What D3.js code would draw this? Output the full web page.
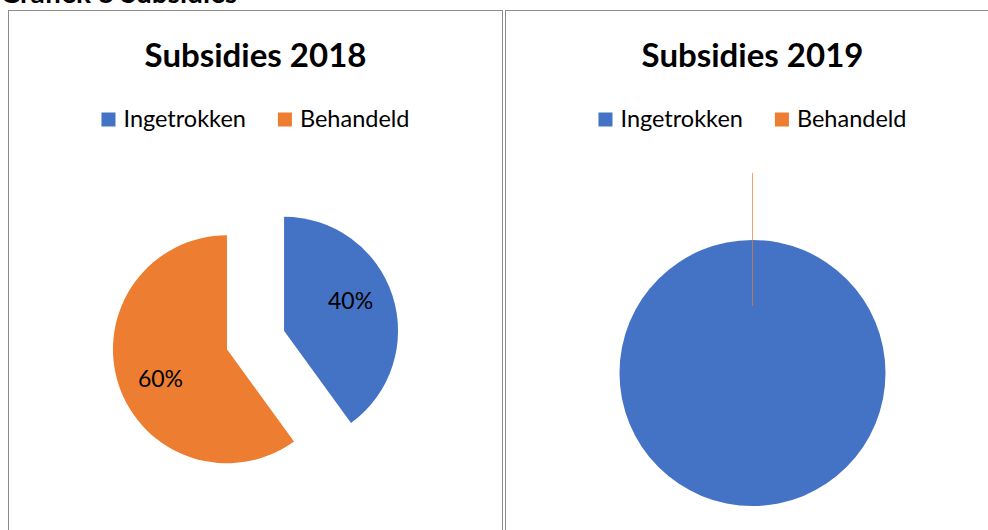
<!DOCTYPE html>
<html>
<head>
<meta charset="utf-8">
<script src="https://cdn.jsdelivr.net/npm/d3@7/dist/d3.min.js"></script>
<style>
  body { margin: 0; background: #fff; }
  text { font-family: Lato, "Open Sans", sans-serif; fill: #000; }
</style>
</head>
<body>
<svg id="chart" width="988" height="530"></svg>
<script>
// Data
const pageTitle = 'Grafiek 8 Subsidies';
const categories = ['Ingetrokken', 'Behandeld'];
const chartTitles = ['Subsidies 2018', 'Subsidies 2019'];
const values2018 = [40, 60];
const values2019 = [100, 0];

const colors = d3.scaleOrdinal().domain(categories).range(['#4472C4', '#ED7D31']);

// Layout of the two chart boxes (pie centre, radius, explode per slice)
const panels = [
  { x: 8.5, width: 494, values: values2018, title: chartTitles[0],
    cy: 340, radius: 114, explode: [30, 30], labels: true },
  { x: 505.5, width: 494, values: values2019, title: chartTitles[1],
    cy: 373, radius: 133, explode: [0, 67], labels: false }
];

const svg = d3.select('#chart');

// Page heading, cut off by the top edge
svg.append('text')
  .attr('x', 0)
  .attr('y', 3)
  .style('font-weight', 700)
  .style('font-size', '28px')
  .text(pageTitle);

const pie = d3.pie().sort(null).value(d => d);

panels.forEach(p => {
  const cx = p.x + p.width / 2;
  const g = svg.append('g');

  // Chart frame
  g.append('rect')
    .attr('x', p.x)
    .attr('y', 10.5)
    .attr('width', p.width)
    .attr('height', 600)
    .style('fill', 'none')
    .style('stroke', '#8c8c8c')
    .style('stroke-width', 1);

  // Title
  g.append('text')
    .attr('x', cx)
    .attr('y', 67)
    .attr('text-anchor', 'middle')
    .style('font-weight', 700)
    .style('font-size', '33px')
    .text(p.title);

  // Legend, centred under the title
  const legend = g.append('g');
  let offset = 0;
  categories.forEach((c, i) => {
    const item = legend.append('g').attr('transform', `translate(${offset},0)`);
    item.append('rect')
      .attr('x', 0)
      .attr('y', 112.5)
      .attr('width', 14)
      .attr('height', 14)
      .style('fill', colors(c));
    const t = item.append('text')
      .attr('x', 22)
      .attr('y', 127)
      .style('font-size', '23.5px')
      .text(c);
    offset += 22 + t.node().getComputedTextLength() + 32;
  });
  const legendWidth = offset - 32;
  legend.attr('transform', `translate(${cx - legendWidth / 2},0)`);

  // Pie slices
  const arc = d3.arc().innerRadius(0).outerRadius(p.radius);
  const arcs = pie(p.values);

  const slices = g.selectAll('g.slice')
    .data(arcs)
    .join('g')
    .attr('class', 'slice')
    .attr('transform', (d, i) => {
      const mid = (d.startAngle + d.endAngle) / 2;
      const e = p.explode[i];
      return `translate(${cx + e * Math.sin(mid)},${p.cy - e * Math.cos(mid)})`;
    });

  slices.append('path')
    .attr('d', arc)
    .style('fill', (d, i) => colors(categories[i]))
    .style('stroke', (d, i) => d.value === 0 ? colors(categories[i]) : 'none')
    .style('stroke-opacity', 0.45)
    .style('stroke-width', 1);

  if (p.labels) {
    const total = d3.sum(p.values);
    const lr = p.radius * 0.64;
    slices.append('text')
      .attr('transform', d => {
        // Excel nudges the label a little counter-clockwise from the mid angle
        const a = (d.startAngle + d.endAngle) / 2 - 0.11;
        return `translate(${lr * Math.sin(a)},${-lr * Math.cos(a)})`;
      })
      .attr('text-anchor', 'middle')
      .attr('dy', '0.35em')
      .style('font-size', '23px')
      .text(d => Math.round(d.value / total * 100) + '%');
  }
});
</script>
</body>
</html>
